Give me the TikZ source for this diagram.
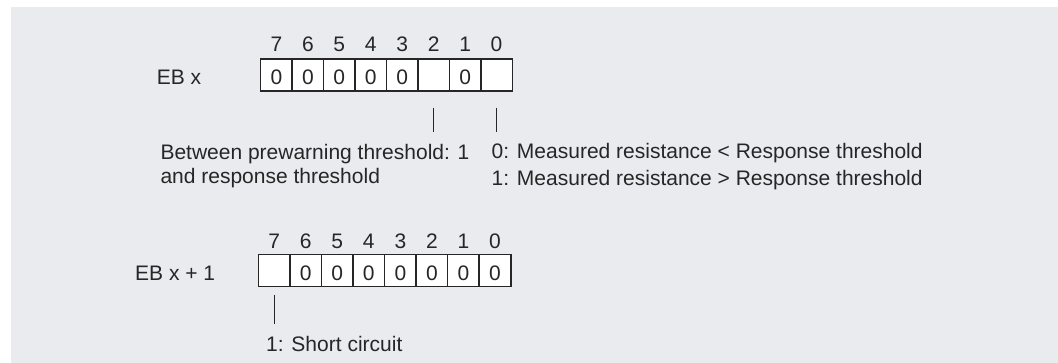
\documentclass[tikz,border=0pt]{standalone}
\usepackage{fontspec}
\setmainfont{Liberation Sans}
\usetikzlibrary{positioning}
\definecolor{panelgray}{HTML}{EAEBEE}
\definecolor{inkgray}{HTML}{262626}

\begin{document}
\begin{tikzpicture}[x=1pt,y=-1pt,
  every node/.style={text=inkgray, inner sep=0pt, font=\fontsize{21}{25}\selectfont},
  cell/.style={draw=inkgray, line width=1.5pt, fill=white, minimum width=31.5pt,
    minimum height=32pt, text height=20pt, text depth=0pt},
  tick/.style={draw=inkgray, line width=1.3pt}]
\fill[white] (0,0) rectangle (1058,363);
\fill[panelgray] (11,7) rectangle (1058,363);
\useasboundingbox (0,0) rectangle (1058,363);

% EB x
\node[anchor=base west] (ebx) at (156.6,85) {EB x};
\foreach \b/\v in {7/0,6/0,5/0,4/0,3/0,2/{},1/0,0/{}} {
  \node[cell] (a\b) at ({260.7+(7.5-\b)*31.45},75) {\v};
  \node[anchor=base] (na\b) at ({260.7+(7.5-\b)*31.45},51.7) {\b};
}
\node[anchor=base west] (prew1) at (160.3,160) {Between prewarning threshold: 1};
\node[anchor=base west] (prew2) at (160.3,184) {and response threshold};
\node[anchor=base west] (meas0) at (491.5,159) {0: Measured resistance < Response threshold};
\node[anchor=base west] (meas1) at (491.5,185.5) {1: Measured resistance > Response threshold};
\draw[tick, shorten <=16pt, shorten >=12.7pt] (a2.south) -- (a2.south |- prew1.north);
\draw[tick, shorten <=16pt, shorten >=11.7pt] (a0.south) -- (a0.south |- meas0.north);

% EB x + 1
\node[anchor=base west] (ebx1) at (135,281) {EB x + 1};
\foreach \b/\v in {7/{},6/0,5/0,4/0,3/0,2/0,1/0,0/0} {
  \node[cell] (b\b) at ({258.4+(7.5-\b)*31.55},270.5) {\v};
  \node[anchor=base] (nb\b) at ({258.4+(7.5-\b)*31.55},248.3) {\b};
}
\node[anchor=base west] (short) at (266,351.7) {1: Short circuit};
\draw[tick, shorten <=7.3pt, shorten >=12pt] (b7.south) -- (b7.south |- short.north);
\end{tikzpicture}
\end{document}
